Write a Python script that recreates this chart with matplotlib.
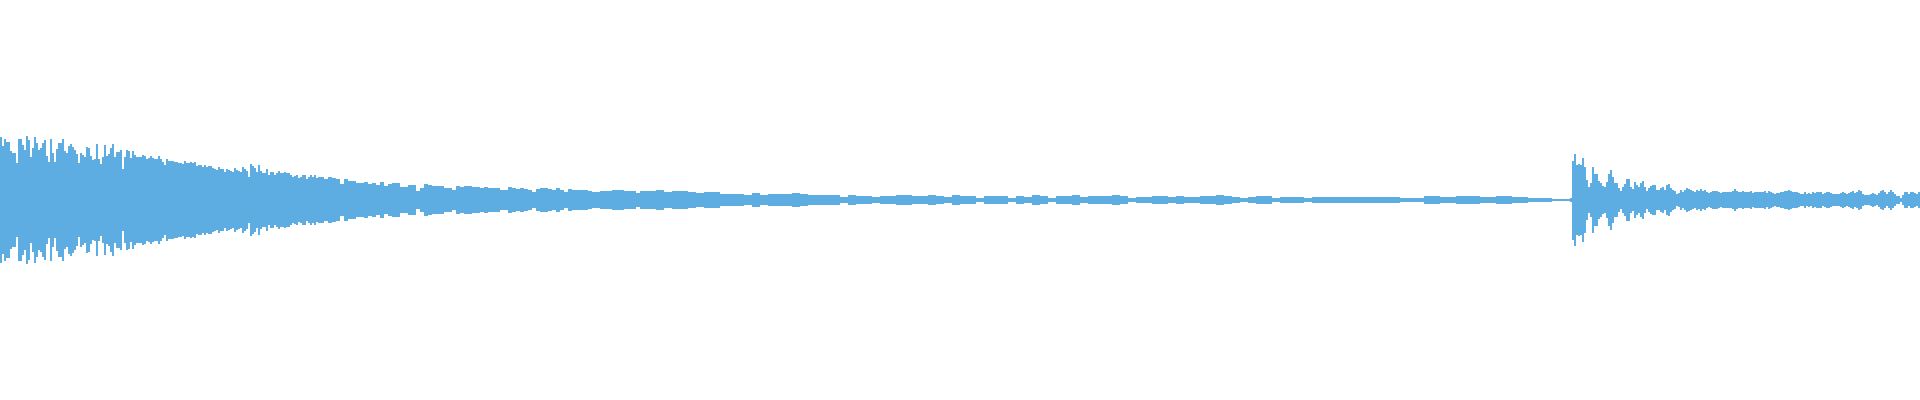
import numpy as np
import matplotlib
matplotlib.use("Agg")
import matplotlib.pyplot as plt

# Peak amplitude (symmetric around zero), per segment
attack_peaks = [
    63, 54, 61, 58, 58, 49, 47, 47, 37, 61,
    61, 55, 50, 64, 60, 43, 52, 63, 57, 50,
    52, 57, 60, 44, 38, 61, 47, 38, 51, 57,
    57, 61, 49, 47, 54, 56, 53, 50, 46, 37,
    47, 45, 43, 53, 52, 44, 40, 41, 56, 41,
    36, 43, 55, 44, 46, 52, 56, 43, 48, 48,
    50, 31, 43, 50, 49, 42, 49, 45, 43, 43,
    43, 45, 44, 41, 42, 44, 42, 41, 41, 44,
    41, 38, 35, 41, 39, 39, 39, 38, 38, 37,
    37, 36, 39, 37, 37, 38, 37, 38, 34, 35,
    35, 33, 35, 33, 34, 34, 32, 31, 30, 33,
    31, 31, 28, 31, 30, 29, 28, 32, 30, 29,
    28, 33, 31, 29, 23, 36, 34, 32, 28, 35,
    29, 27, 27, 31, 25, 28, 28, 25, 27, 29,
    27, 27, 28, 27, 27, 25, 23, 24, 25, 22,
    23, 25, 25, 21, 23, 25, 23, 25, 22, 23,
]

decay_peaks = [
    23.3, 20.7, 23.3, 21.7, 21.0, 15.7, 20.7, 19.3, 19.3, 16.7,
    17.3, 18.0, 16.0, 16.7, 14.7, 17.7, 14.0, 16.0, 16.7, 16.7,
    12.7, 13.0, 15.3, 14.7, 9.0, 12.3, 16.0, 15.0, 13.7, 14.3,
    14.3, 12.3, 12.3, 10.0, 13.7, 13.3, 14.0, 13.7, 12.7, 13.0,
    12.3, 12.7, 12.3, 11.7, 11.7, 10.3, 10.0, 12.7, 11.7, 11.3,
    11.7, 11.3, 10.0, 8.0, 11.3, 11.7, 11.7, 10.7, 10.3, 11.7,
    10.0, 8.3, 10.7, 10.3, 10.0, 9.7, 9.7, 9.3, 7.7, 8.3,
    9.0, 9.3, 9.0, 9.7, 10.0, 9.7, 9.0, 9.0, 9.0, 7.3,
]

tail_peaks = [
    8.7, 9.3, 9.7, 7.7, 8.7, 9.0, 8.0, 7.0, 7.7, 8.0,
    6.3, 5.7, 5.7, 5.3, 7.0, 4.7, 5.7, 5.7, 6.0, 7.0,
    6.0, 5.3, 4.7, 5.3, 5.3, 3.0, 4.7, 4.0, 4.0, 2.7,
    3.7, 3.7, 5.0, 5.0, 3.7, 4.0, 4.7, 4.0, 3.0, 4.7,
    3.7, 3.7, 2.3, 4.0, 3.7, 4.0, 2.0, 3.7, 3.3, 4.7,
    3.7, 1.7, 3.7, 3.7, 4.7, 2.7, 4.0, 4.0, 4.3, 5.3,
    4.0, 2.3, 3.3, 3.0, 4.0, 3.7, 3.0, 3.7, 3.0, 2.7,
    3.7, 3.7, 4.7, 3.7, 3.0, 2.0, 3.3, 3.7, 3.7, 2.3,
    2.7, 3.0, 3.0, 2.3, 3.0, 2.7, 3.3, 2.7, 3.0, 2.7,
    3.0, 3.0, 2.7, 3.3, 3.0, 2.3, 1.7, 2.3, 4.0, 3.7,
    2.7, 2.7, 3.7, 4.0, 3.7, 2.7, 2.7, 3.7, 4.0, 3.3,
    2.7, 2.3, 2.3, 1.7, 1.3,
]

hit_peaks = [
    1.0, 1.0, 1.0, 1.0, 1.0, 2.0, 39.5, 45.7, 35.0, 36.3,
    35.0, 41.7, 33.3, 19.7, 13.3, 17.3, 33.0, 25.7, 26.3, 19.3,
    16.7, 13.7, 13.0, 18.3, 26.3, 29.7, 23.0, 17.0, 16.7, 12.0,
    9.0, 13.3, 15.7, 20.7, 21.3, 13.0, 11.3, 18.0, 15.3, 12.7,
    16.7, 19.0, 13.0, 9.0, 11.7, 13.7, 15.3, 14.7, 10.3, 9.7,
    12.3, 12.7, 10.3, 15.0, 15.7, 11.7, 9.7, 9.0, 6.0, 6.7,
    10.3, 8.3, 9.7, 12.0, 11.3, 10.0, 8.7, 7.7, 9.7, 9.0,
    11.0, 9.0, 10.3, 8.3, 7.3, 8.0, 9.3, 9.0, 8.7, 8.3,
    7.3, 8.3, 8.0, 8.3, 8.3, 8.3, 9.3, 11.0, 8.7, 7.7,
    7.7, 9.0, 7.7, 7.7, 8.3, 8.7, 7.0, 7.7, 8.3, 8.0,
    8.3, 7.7, 8.7, 7.3, 9.3, 8.0, 7.3, 6.0, 7.0, 7.0,
    8.3, 8.3, 8.7, 8.7, 9.7, 9.0, 7.7, 8.0, 8.3, 7.0,
    6.3, 5.7, 7.7, 5.7, 7.0, 6.3, 7.7, 7.0, 8.3, 8.3,
    7.7, 6.3, 7.0, 8.3, 8.3, 7.0, 6.3, 5.7, 6.3, 6.0,
    7.0, 7.7, 7.0, 6.0, 7.0, 8.3, 8.7, 7.0, 8.3, 9.7,
    8.7, 6.0, 5.3, 5.0, 5.0, 5.7, 7.0, 6.3, 5.0, 7.0,
    9.0, 9.7, 7.7, 6.3, 8.3, 9.7, 7.7, 5.7, 4.3, 3.7,
    2.3, 4.7, 7.7, 7.7, 6.3, 8.3, 8.3, 7.0, 5.7, 7.7,
]

# samples spanned by each peak value in the segments above
segment_steps = [2, 4, 8, 2]

COLOR = "#5DADE2"

fig = plt.figure(figsize=(19.2, 4), dpi=100)
ax = fig.add_axes([0, 0, 1, 1])

start = 0
for vals, step in zip([attack_peaks, decay_peaks, tail_peaks, hit_peaks], segment_steps):
    v = np.asarray(vals, dtype=float)
    x = start + step * np.arange(len(v))
    ax.bar(x, 2 * v, bottom=-v, width=step, align="edge", color=COLOR,
           linewidth=0, antialiased=False)
    start += step * len(v)

ax.set_xlim(0, start)
ax.set_ylim(-200, 200)
ax.axis("off")
fig.savefig("out.png", dpi=100, facecolor="white")
